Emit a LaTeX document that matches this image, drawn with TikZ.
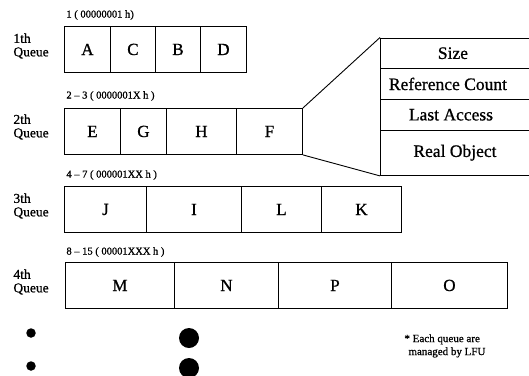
\documentclass[tikz,border=0pt]{standalone}
\usepackage{fontspec}
\setmainfont{Liberation Serif}[FakeBold=0.9]
\begin{document}
\begin{tikzpicture}[x=1pt, y=-1pt, line width=0.9pt,
  cell/.style={draw, rectangle, anchor=north west, inner sep=0pt,
    minimum height=46pt, font=\fontsize{17}{20}\selectfont},
  rowcell/.style={draw, rectangle, anchor=north west, inner sep=0pt,
    minimum width=165pt},
  rowtext/.style={font=\fontsize{17.5}{20}\selectfont, inner sep=0pt},
  rangelabel/.style={anchor=west, inner sep=0pt, font=\fontsize{10.5}{12}\selectfont},
  qname/.style={anchor=west, inner sep=0pt, align=left,
    font=\fontsize{13.5}{13.5}\selectfont},
  note/.style={anchor=north west, inner sep=0pt, align=left,
    font=\fontsize{11}{13}\selectfont},
  smalldot/.style={circle, fill, inner sep=0pt, minimum size=9.5pt},
  bigdot/.style={circle, fill, inner sep=0pt, minimum size=20pt}]
\useasboundingbox (0,0) rectangle (529,375);

% 1th queue
\node[qname] (q1) at (13,46) {1th\\Queue};
\node[rangelabel] (r1) at (66,15) {1 ( 00000001 h)};
\node[cell, minimum width=46pt] (A) at (64,26) {A};
\node[cell, minimum width=45pt] (C) at (110,26) {C};
\node[cell, minimum width=45pt] (B) at (155,26) {B};
\node[cell, minimum width=46pt] (D) at (200,26) {D};

% 2th queue
\node[qname] (q2) at (13,127) {2th\\Queue};
\node[rangelabel] (r2) at (66,96) {2 -- 3 ( 0000001X h )};
\node[cell, minimum width=56pt] (E) at (64,108) {E};
\node[cell, minimum width=46pt] (G) at (120,108) {G};
\node[cell, minimum width=70pt] (H) at (166,108) {H};
\node[cell, minimum width=66pt] (F) at (236,108) {F};

% 3th queue
\node[qname] (q3) at (13,206) {3th\\Queue};
\node[rangelabel] (r3) at (66,175) {4 -- 7 ( 000001XX h )};
\node[cell, minimum width=82pt] (J) at (64,186) {J};
\node[cell, minimum width=95pt] (I) at (146,186) {I};
\node[cell, minimum width=80pt] (L) at (241,186) {L};
\node[cell, minimum width=80pt] (K) at (321,186) {K};

% 4th queue
\node[qname] (q4) at (13,282) {4th\\Queue};
\node[rangelabel] (r4) at (66,252) {8 -- 15 ( 00001XXX h )};
\node[cell, minimum width=109pt] (M) at (65,262) {M};
\node[cell, minimum width=104pt] (N) at (174,262) {N};
\node[cell, minimum width=113pt] (P) at (278,262) {P};
\node[cell, minimum width=116pt] (O) at (391,262) {O};

% object record, running off the right edge
\node[rowcell, minimum height=30.5pt, label={[rowtext, xshift=-10pt]center:Size}] (size) at (380,37.5) {};
\node[rowcell, minimum height=31pt, label={[rowtext, xshift=-15pt]center:Reference Count}] (refc) at (380,68) {};
\node[rowcell, minimum height=30.5pt, label={[rowtext, xshift=-12pt]center:Last Access}] (last) at (380,99) {};
\node[rowcell, minimum height=45.5pt, label={[rowtext, xshift=-8pt]center:Real Object}] (real) at (380,129.5) {};

\draw (F.north east) -- (size.north west);
\draw (F.south east) -- (real.south west);

% continuation marks
\node[smalldot] (s1) at (31,333) {};
\node[smalldot] (s2) at (31,366) {};
\node[bigdot] (b1) at (189,338) {};
\node[bigdot] (b2) at (189,368) {};

\node[note] (nt) at (404,334) {* Each queue are\\\hspace{4pt}managed by LFU};
\end{tikzpicture}
\end{document}
